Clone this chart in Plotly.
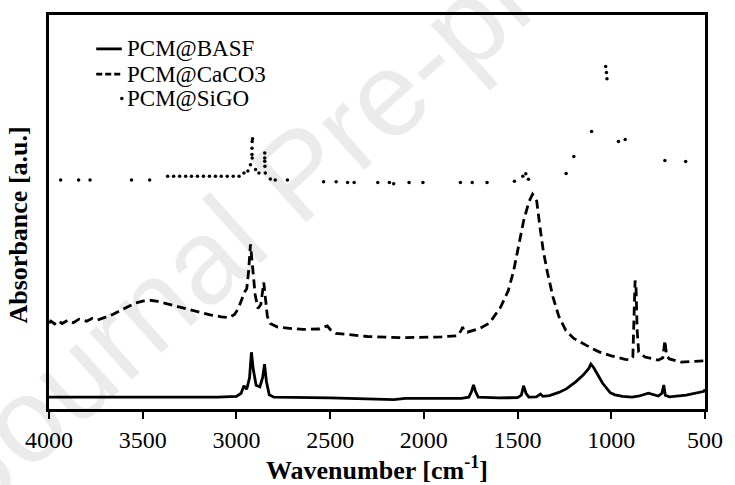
import plotly.graph_objects as go

# FTIR spectra of the three shape-stabilised PCM samples (absorbance, arbitrary units)

basf_wn = [4000, 3500, 3100, 3000, 2975, 2960, 2945, 2930, 2920, 2910, 2895, 2875,
           2860, 2850, 2840, 2825, 2800, 2500, 2200, 2160, 2100, 1800, 1760, 1745,
           1735, 1725, 1710, 1600, 1500, 1480, 1468, 1455, 1440, 1400, 1378, 1365,
           1330, 1280, 1240, 1190, 1150, 1120, 1109, 1095, 1047, 1020, 1005, 980,
           940, 889, 850, 802, 770, 749, 730, 720, 712, 690, 600, 504, 500]
basf_abs = [3.0, 3.0, 3.0, 3.2, 4.0, 5.9, 5.0, 8.0, 14.4, 10.0, 6.0, 5.6,
            8.0, 11.4, 7.0, 3.6, 3.0, 2.8, 2.6, 2.4, 2.7, 2.7, 3.0, 4.5,
            6.1, 4.5, 3.0, 2.8, 2.9, 3.5, 5.9, 4.0, 3.0, 3.1, 3.8, 3.2,
            3.4, 4.2, 5.1, 6.9, 8.6, 10.3, 11.4, 10.6, 6.6, 4.8, 4.1, 3.6,
            3.2, 3.0, 3.3, 4.0, 3.6, 3.3, 4.0, 6.1, 3.5, 3.1, 3.5, 4.5, 5.0]

caco3_wn = [4000, 3990, 3970, 3950, 3930, 3900, 3870, 3840, 3800, 3770, 3740, 3700,
            3660, 3620, 3580, 3540, 3500, 3460, 3420, 3380, 3320, 3260, 3200, 3140,
            3080, 3040, 3010, 2990, 2970, 2958, 2945, 2935, 2925, 2915, 2900, 2885,
            2870, 2860, 2854, 2845, 2835, 2820, 2780, 2700, 2644, 2560, 2530, 2515,
            2500, 2468, 2300, 2117, 1907, 1820, 1800, 1793, 1785, 1768, 1700, 1650,
            1591, 1550, 1521, 1490, 1468, 1440, 1420, 1405, 1398, 1380, 1363, 1340,
            1311, 1280, 1242, 1200, 1153, 1100, 1065, 1000, 926, 900, 885, 878,
            873, 868, 862, 854, 820, 749, 725, 714, 705, 690, 626, 505, 500]
caco3_abs = [21.8, 22.3, 21.6, 22.4, 21.7, 22.5, 21.9, 22.8, 22.3, 23.0, 22.6, 23.3,
             24.0, 25.0, 26.0, 26.9, 27.4, 27.6, 27.3, 26.8, 26.1, 25.3, 24.6, 23.9,
             23.4, 23.2, 24.0, 25.5, 28.0, 29.6, 30.5, 35.0, 41.8, 37.0, 29.0, 25.5,
             26.5, 30.0, 32.1, 28.0, 23.5, 21.7, 20.8, 20.4, 20.2, 20.3, 20.9, 21.1,
             20.2, 19.2, 18.4, 18.1, 18.3, 18.6, 20.0, 20.8, 19.8, 19.5, 20.5, 21.8,
             25.8, 30.0, 35.1, 42.0, 47.7, 52.5, 54.5, 53.5, 52.8, 46.0, 40.2, 34.5,
             28.4, 23.5, 19.9, 17.9, 16.6, 15.3, 14.5, 13.5, 12.6, 12.5, 13.2, 25.0,
             32.6, 31.0, 20.0, 14.5, 13.2, 12.4, 13.0, 17.4, 13.5, 12.7, 11.9, 12.2, 12.2]

sigo_wn = [3938, 3842, 3781, 3560, 3463,
           3367, 3335, 3303, 3271, 3240, 3208, 3176, 3144, 3112, 3081, 3049, 3017, 2986,
           2960, 2939, 2925, 2916, 2917, 2917, 2916, 2914,
           2898, 2880, 2849, 2849, 2849, 2848, 2846,
           2819, 2793, 2728, 2535, 2468, 2407, 2372, 2246, 2184, 2161,
           2079, 2005, 1805, 1742, 1663,
           1517, 1472, 1456, 1442, 1241, 1200, 1105,
           1030, 1026, 1023, 962, 926, 714, 603]
sigo_abs = [58.1, 58.1, 58.1, 58.1, 58.1,
            59.1, 59.1, 59.1, 59.1, 59.1, 59.1, 59.1, 59.1, 59.1, 59.1, 59.1, 59.1, 59.1,
            59.9, 60.4, 62.0, 63.7, 64.6, 66.2, 67.9, 68.6,
            60.8, 59.9, 65.0, 63.7, 62.9, 61.6, 59.9,
            58.4, 58.1, 58.1, 57.7, 57.7, 57.5, 57.5, 57.5, 57.5, 57.2,
            57.5, 57.5, 57.5, 57.5, 57.5,
            57.8, 59.1, 59.7, 58.3, 59.8, 64.1, 70.4,
            86.9, 85.4, 83.8, 67.9, 68.4, 63.1, 62.8]

x_ticks = [4000, 3500, 3000, 2500, 2000, 1500, 1000, 500]
series_names = ["PCM@BASF", "PCM@CaCO3", "PCM@SiGO"]

SERIF = "Liberation Serif, Times New Roman, serif"
DASH = "9px,5px"

fig = go.Figure()

fig.add_trace(go.Scatter(
    x=basf_wn, y=basf_abs, name=series_names[0], mode="lines",
    line=dict(color="black", width=2.8), showlegend=False,
))
fig.add_trace(go.Scatter(
    x=caco3_wn, y=caco3_abs, name=series_names[1], mode="lines",
    line=dict(color="black", width=2.8, dash=DASH), showlegend=False,
))
fig.add_trace(go.Scatter(
    x=sigo_wn, y=sigo_abs, name=series_names[2], mode="markers",
    marker=dict(color="black", size=3.5), showlegend=False,
))

axis_common = dict(
    showline=True, linecolor="black", linewidth=2.5, mirror=True,
    showgrid=False, zeroline=False,
)

# Compact key in the upper-left corner: sample line / dot followed by its name
key_x0, key_x1, key_text_x = 0.072, 0.111, 0.116
key_rows = [0.914, 0.850, 0.788]
key_shapes = [
    dict(type="line", xref="paper", yref="paper", x0=key_x0, x1=key_x1,
         y0=key_rows[0], y1=key_rows[0], line=dict(color="black", width=2.8)),
    dict(type="line", xref="paper", yref="paper", x0=key_x0, x1=key_x1,
         y0=key_rows[1], y1=key_rows[1], line=dict(color="black", width=2.8, dash="6px,3px")),
    dict(type="circle", xref="paper", yref="paper", xsizemode="pixel", ysizemode="pixel",
         xanchor=key_x1, yanchor=key_rows[2], x0=-1.8, x1=1.8, y0=-1.8, y1=1.8,
         fillcolor="black", line=dict(width=0)),
]
key_labels = [
    dict(text=name, xref="paper", yref="paper", x=key_text_x, y=row,
         xanchor="left", yanchor="middle", showarrow=False,
         font=dict(family=SERIF, size=23, color="black"))
    for name, row in zip(series_names, key_rows)
]

fig.update_layout(
    width=735, height=485,
    margin=dict(l=49, r=20, t=13, b=76),
    paper_bgcolor="white", plot_bgcolor="white",
    font=dict(family=SERIF, size=24, color="black"),
    xaxis=dict(
        range=[4000, 500], tickvals=x_ticks,
        ticktext=[str(v) for v in x_ticks],
        ticks="outside", ticklen=7, tickwidth=2, tickcolor="black",
        tickfont=dict(family=SERIF, size=24, color="black"),
        **axis_common,
    ),
    yaxis=dict(
        range=[0, 100], showticklabels=False, ticks="",
        **axis_common,
    ),
    showlegend=False,
    shapes=key_shapes,
    annotations=[
        dict(
            text="Journal Pre-proof", xref="paper", yref="paper",
            x=0.38, y=0.6, showarrow=False, textangle=-42,
            font=dict(family="Liberation Sans, Arial, sans-serif", size=120,
                      color="rgba(0,0,0,0.08)"),
        ),
        dict(
            text="<b>Wavenumber [cm<sup>-1</sup>]</b>", xref="paper", yref="paper",
            x=0.5, y=-0.15, xanchor="center", yanchor="middle", showarrow=False,
            font=dict(family=SERIF, size=26, color="black"),
        ),
        dict(
            text="<b>Absorbance [a.u.]</b>", xref="paper", yref="paper",
            x=-0.048, y=0.467, xanchor="center", yanchor="middle", showarrow=False,
            textangle=-90,
            font=dict(family=SERIF, size=26, color="black"),
        ),
    ] + key_labels,
)

fig.write_html("out.html")
